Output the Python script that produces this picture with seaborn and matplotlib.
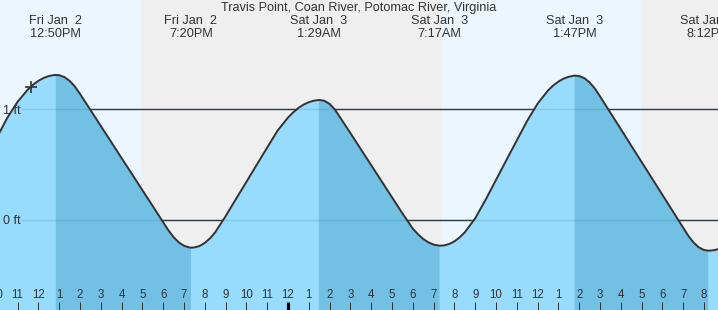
import matplotlib
matplotlib.use("Agg")
import matplotlib.pyplot as plt
import matplotlib.transforms as mtransforms
import pandas as pd
import seaborn as sns

# ---------------- data ----------------
title = "Travis Point, Coan River, Potomac River, Virginia"

# hours relative to Sat Jan 3 00:00 and tide height in ft
hours = [-14.0, -13.5, -13.0, -12.5, -12.25, -12.0, -11.75, -11.5, -11.25, -11.0,
         -10.75, -10.5, -10.25, -10.0, -9.5,
         -9.0, -8.5, -8.0, -7.5, -7.0, -6.5, -6.0, -5.75, -5.5, -5.25, -5.0,
         -4.75, -4.5, -4.25, -4.0, -3.75, -3.5, -3.0, -2.5, -2.0, -1.5, -1.0,
         -0.5, 0.0, 0.25, 0.5, 0.75, 1.0, 1.25, 1.5, 1.75, 2.0, 2.25, 2.5,
         3.0, 3.5, 4.0, 4.5, 5.0, 5.5, 6.0, 6.25, 6.5, 6.75, 7.0, 7.25, 7.5,
         7.75, 8.0, 8.25, 8.5, 9.0, 9.5, 10.0, 10.5, 11.0, 11.5, 12.0, 12.5,
         12.75, 13.0, 13.25, 13.5, 13.75, 14.0, 14.25, 14.5, 14.75, 15.0, 15.5,
         16.0, 16.5, 17.0, 17.5, 18.0, 18.5, 19.0, 19.25, 19.5, 19.75, 20.0,
         20.25, 20.5, 20.75, 21.0]
heights = [0.743, 0.922, 1.068, 1.180, 1.223, 1.257, 1.283, 1.300, 1.309, 1.308,
           1.291, 1.257, 1.207, 1.139, 0.995,
           0.849, 0.705, 0.559, 0.415, 0.269, 0.125, -0.021, -0.093, -0.155, -0.202, -0.233,
           -0.248, -0.248, -0.235, -0.207, -0.166, -0.111, 0.034, 0.190, 0.344, 0.500, 0.654,
           0.808, 0.925, 0.972, 1.012, 1.042, 1.064, 1.078, 1.084, 1.077, 1.048, 0.999, 0.928,
           0.785, 0.640, 0.495, 0.350, 0.205, 0.060, -0.078, -0.129, -0.171, -0.202, -0.222, -0.231, -0.230,
           -0.217, -0.193, -0.158, -0.111, 0.015, 0.183, 0.362, 0.541, 0.719, 0.896, 1.051, 1.170,
           1.215, 1.250, 1.277, 1.294, 1.303, 1.300, 1.281, 1.243, 1.188, 1.117, 0.969,
           0.821, 0.672, 0.524, 0.376, 0.227, 0.079, -0.070, -0.144, -0.204, -0.247, -0.271,
           -0.277, -0.272, -0.260, -0.240]

# high / low tide events
event_hours = [-11.167, -4.667, 1.483, 7.283, 13.783, 20.2]
event_heights = [1.31, -0.25, 1.084, -0.232, 1.304, -0.277]
event_days = ["Fri Jan  2", "Fri Jan  2", "Sat Jan  3", "Sat Jan  3", "Sat Jan  3", "Sat Jan  3"]
event_times = ["12:50PM", "7:20PM", "1:29AM", "7:17AM", "1:47PM", "8:12PM"]

# night periods (sunset -> sunrise), hours relative to Jan 3 00:00
night_start = [-7.07, 16.97]
night_end = [7.36, 30.0]

# current-time marker
now_hour = -12.37
now_height = 1.204

tick_hours = list(range(-14, 21))
tick_labels = ["10", "11", "12", "1", "2", "3", "4", "5", "6", "7", "8", "9", "10", "11",
               "12", "1", "2", "3", "4", "5", "6", "7", "8", "9", "10", "11",
               "12", "1", "2", "3", "4", "5", "6", "7", "8"]
midnight_hour = 0

y_levels = [0, 1]
y_labels = ["0 ft", "1 ft"]

# ---------------- style ----------------
DAY = "#EBF6FE"
NIGHT = "#EFEFEF"
LIGHT = "#97DBFD"
DARK = "#72C0E4"
INK = "#333333"

sns.set_style("white")
plt.rcParams["font.family"] = ["Liberation Sans", "DejaVu Sans"]

XMIN, XMAX = -14.327, 20.673
YMIN, YMAX = -0.813, 1.987
GRID_X0 = -12.84

df = pd.DataFrame({"hour": hours + event_hours, "height": heights + event_heights})
df = df.sort_values("hour").drop_duplicates("hour").reset_index(drop=True)

fig = plt.figure(figsize=(7.18, 3.10), dpi=100)
ax = fig.add_axes([-10 / 718, 0, 728 / 718, 1])
ax.set_axisbelow(False)

# background day / night
ax.axvspan(XMIN, XMAX, color=DAY, lw=0, zorder=0)
for s, e in zip(night_start, night_end):
    ax.axvspan(s, e, color=NIGHT, lw=0, zorder=0.1)

# level lines
ax.hlines(y_levels, GRID_X0, XMAX, colors=INK, lw=1.0, zorder=1)

# water fill: rising = light, falling = dark
ax.fill_between(df["hour"], df["height"], YMIN - 1, color=LIGHT, lw=0, zorder=2)
for hi, lo in zip(event_hours[0::2], event_hours[1::2]):
    m = (df["hour"] >= hi) & (df["hour"] <= lo)
    ax.fill_between(df["hour"][m], df["height"][m], YMIN - 1, color=DARK, lw=0, zorder=2.1)

ax.hlines(y_levels, GRID_X0, XMAX, colors="#1f6f9f", lw=1.0, alpha=0.18, zorder=2.4)

sns.lineplot(data=df, x="hour", y="height", ax=ax, color=INK, lw=1.4,
             zorder=3, legend=False, sort=True)

ax.plot([now_hour], [now_height], marker="+", ms=9, mew=1.2, color=INK, zorder=4)

# texts
blend_top = mtransforms.blended_transform_factory(ax.transData, ax.transAxes)
for h, d, t in zip(event_hours, event_days, event_times):
    ax.text(h, 0.921, d, transform=blend_top, ha="center", va="baseline",
            fontsize=9.2, color=INK, zorder=5)
    ax.text(h, 0.882, t, transform=blend_top, ha="center", va="baseline",
            fontsize=9.2, color=INK, zorder=5)

fig.text(0.5, 0.963, title, ha="center", va="baseline", fontsize=9.2, color=INK)

blend_left = mtransforms.blended_transform_factory(fig.transFigure, ax.transData)
lab_tr = mtransforms.offset_copy(blend_left, fig=fig, x=0, y=-4.5, units="dots")
for lvl, lab in zip(y_levels, y_labels):
    ax.text(3 / 718, lvl, lab, transform=lab_tr, ha="left", va="baseline",
            fontsize=9, color=INK, zorder=5)

# axes
ax.set_xlim(XMIN, XMAX)
ax.set_ylim(YMIN, YMAX)
ax.set_xticks(tick_hours)
ax.set_xticklabels(tick_labels)
ax.set_yticks([])
ax.set_xlabel("")
ax.set_ylabel("")
ax.tick_params(axis="x", direction="in", length=5.76, width=0.72, color=INK,
               pad=-15.2, labelsize=8.3, labelcolor=INK, bottom=True)
for sp in ax.spines.values():
    sp.set_visible(False)
mt = ax.xaxis.get_major_ticks()[tick_hours.index(midnight_hour)]
mt.tick1line.set_markeredgewidth(2.3)
mt.tick1line.set_markeredgecolor("black")
mt.tick1line.set_color("black")

fig.savefig("out.png", dpi=100)
